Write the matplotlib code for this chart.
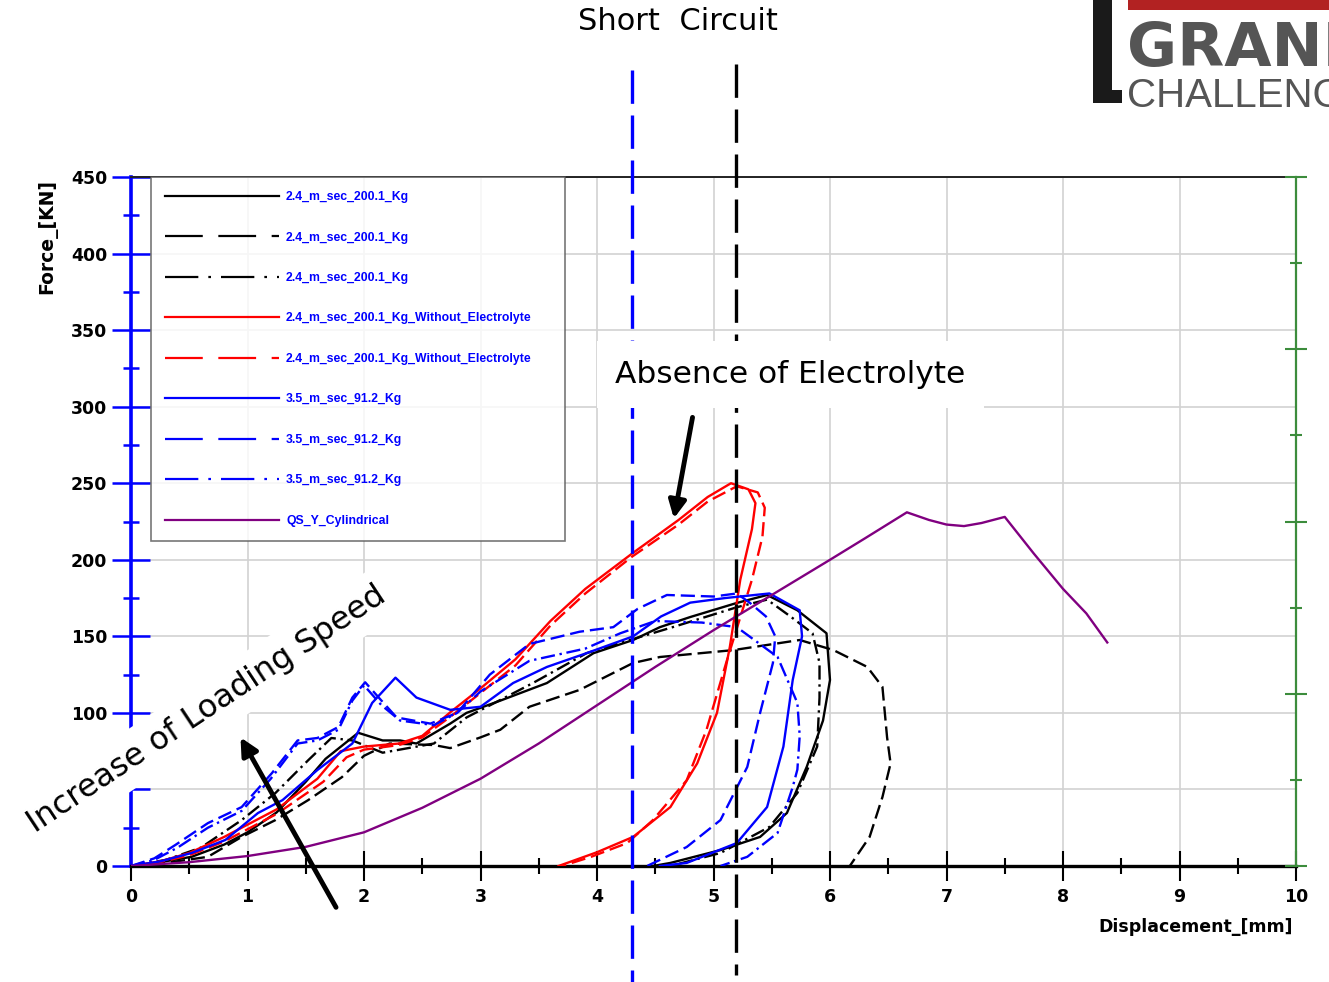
import matplotlib
matplotlib.use("Agg")
import matplotlib.pyplot as plt
from matplotlib.lines import Line2D
from matplotlib.patches import Rectangle
from matplotlib.ticker import MultipleLocator

plt.rcParams['font.family'] = ['DejaVu Sans']

# ---- data (displacement mm, force kN) ----
black_solid_x = [0, 0.25, 0.52, 0.8, 1.0, 1.25, 1.5, 1.67, 1.95, 2.16, 2.31, 2.45, 2.74, 2.88, 3.17,
                 3.57, 3.97, 4.31, 4.54, 4.8, 5.2, 5.46, 5.72, 5.97, 6.0, 5.94, 5.8, 5.63, 5.4, 5.06,
                 4.63, 4.48]
black_solid_f = [0, 2.5, 6, 14, 22, 35, 55, 70, 87, 82, 82, 80, 93, 100, 108,
                 119.5, 139, 147.6, 156, 162.6, 171.8, 177, 167, 152, 121.5, 95, 64.7, 34.6, 19, 10.4,
                 2, 0]

black_dash_x = [0, 0.3, 0.66, 0.95, 1.24, 1.52, 1.81, 2.0, 2.22, 2.6, 2.74, 3.0, 3.17, 3.42, 3.85,
                4.31, 4.54, 5.17, 5.74, 6.03, 6.32, 6.45, 6.49, 6.52, 6.45, 6.34, 6.17]
black_dash_f = [0, 2, 6, 19, 30, 43, 58, 72, 80, 79, 77, 84, 89, 104, 115,
                132.6, 136.5, 141, 147.6, 141, 130, 117, 84, 67, 45, 19, 0]

black_dd_x = [0, 0.3, 0.6, 0.95, 1.24, 1.52, 1.72, 1.9, 2.16, 2.6, 2.88, 3.45, 3.91, 4.3, 4.65,
              5.2, 5.46, 5.66, 5.85, 5.91, 5.91, 5.89, 5.72, 5.48, 5.06, 4.63]
black_dd_f = [0, 4, 12, 30, 47.7, 69, 83.6, 82, 74, 80, 97, 119.5, 139, 148, 156,
              169, 174, 163, 152, 132.6, 110, 78, 47.7, 25.5, 8.5, 0]

red_solid_x = [0, 0.25, 0.5, 0.8, 1.0, 1.25, 1.6, 1.8, 2.0, 2.3, 2.5, 2.75, 3.0, 3.3, 3.6, 3.9,
               4.3, 4.7, 4.95, 5.15, 5.3, 5.36, 5.33, 5.23, 5.14, 5.03, 4.86, 4.63, 4.31, 4.0, 3.67]
red_solid_f = [0, 3, 8.5, 19, 27, 37, 57, 75, 78, 80, 85, 101, 116, 135, 160, 181,
               204, 226, 241, 250, 246, 237, 220, 187, 143, 100, 67, 38.5, 19, 9, 0]

red_dash_x = [0, 0.25, 0.5, 0.8, 1.0, 1.25, 1.65, 1.85, 2.0, 2.3, 2.5, 2.75, 3.0, 3.3, 3.6, 3.9,
              4.3, 4.7, 4.95, 5.2, 5.38, 5.44, 5.42, 5.33, 5.11, 4.94, 4.77, 4.48, 4.26, 3.95, 3.7]
red_dash_f = [0, 2.5, 7, 16, 24, 34, 55, 71, 76, 79, 84, 98, 113, 131, 157, 178,
              202, 223, 238, 248, 244, 234, 215, 187, 133, 89, 56, 30, 15, 6, 0]

blue_solid_x = [0, 0.25, 0.52, 0.81, 1.09, 1.3, 1.6, 1.9, 2.07, 2.27, 2.45, 2.74, 3.0, 3.28, 3.57,
                3.91, 4.31, 4.55, 4.8, 5.1, 5.48, 5.74, 5.76, 5.68, 5.6, 5.46, 5.2, 4.77, 4.54]
blue_solid_f = [0, 3, 8.5, 17, 34.6, 43, 62.7, 80, 106.5, 123, 110, 102, 104, 119.5, 130,
                139, 150, 163, 172, 175, 178, 167, 150, 121.5, 78, 38.5, 15, 2, 0]

blue_dash_x = [0, 0.2, 0.38, 0.66, 0.95, 1.21, 1.43, 1.6, 1.78, 1.9, 2.01, 2.15, 2.28, 2.57, 2.8,
               3.08, 3.42, 3.85, 4.14, 4.35, 4.6, 5.0, 5.2, 5.31, 5.45, 5.53, 5.51, 5.4, 5.29,
               5.06, 4.77, 4.43]
blue_dash_f = [0, 5, 13.7, 28, 38.5, 60.7, 82, 83.6, 90.8, 110, 120, 108, 97, 93, 100,
               125, 145, 153, 156, 168, 177, 176, 178, 172, 163, 150, 132.6, 100, 64.7,
               30, 12.4, 0]

blue_dd_x = [0, 0.2, 0.4, 0.66, 0.95, 1.2, 1.43, 1.6, 1.78, 1.9, 2.0, 2.15, 2.31, 2.6, 2.8, 3.0,
             3.42, 3.9, 4.2, 4.5, 4.9, 5.2, 5.55, 5.72, 5.74, 5.72, 5.68, 5.55, 5.29, 5.06]
blue_dd_f = [0, 4, 12, 25, 36, 57, 80, 82, 89, 108, 118, 105, 95, 92, 100, 114,
             134, 142, 152, 160, 159, 156, 136.5, 106.5, 85, 63, 51.6, 21.6, 6, 0]

qs_x = [0, 0.5, 1.0, 1.5, 2.0, 2.5, 3.0, 3.5, 4.0, 4.5, 5.0, 5.5, 6.0, 6.3, 6.66, 6.85, 7.0,
        7.15, 7.3, 7.5, 7.75, 8.0, 8.2, 8.38]
qs_f = [0, 2.5, 6.5, 12.5, 22, 38, 57, 80, 105, 130, 154, 177, 200, 214, 231, 226, 223,
        222, 224, 228, 204, 181, 165, 146]

labels = ["2.4_m_sec_200.1_Kg", "2.4_m_sec_200.1_Kg", "2.4_m_sec_200.1_Kg",
          "2.4_m_sec_200.1_Kg_Without_Electrolyte", "2.4_m_sec_200.1_Kg_Without_Electrolyte",
          "3.5_m_sec_91.2_Kg", "3.5_m_sec_91.2_Kg", "3.5_m_sec_91.2_Kg", "QS_Y_Cylindrical"]

short_circuit_x = [4.30, 5.19]   # blue and black reference lines

# ---- figure ----
W, H = 1329, 982
fig = plt.figure(figsize=(W / 100, H / 100), dpi=100)
ax = fig.add_axes([131 / W, 1 - 866 / H, (1296 - 131) / W, (866 - 177) / H])

dash = (0, (6, 2.5))
dashdot = (0, (6, 2, 1, 2))
leg_dash = (0, (17, 7))
leg_dashdot = (0, (15, 4.5, 1.2, 4.5))

series = [
    (black_solid_x, black_solid_f, 'black', '-', '-'),
    (black_dash_x, black_dash_f, 'black', dash, leg_dash),
    (black_dd_x, black_dd_f, 'black', dashdot, leg_dashdot),
    (red_solid_x, red_solid_f, 'red', '-', '-'),
    (red_dash_x, red_dash_f, 'red', dash, leg_dash),
    (blue_solid_x, blue_solid_f, 'blue', '-', '-'),
    (blue_dash_x, blue_dash_f, 'blue', dash, leg_dash),
    (blue_dd_x, blue_dd_f, 'blue', dashdot, leg_dashdot),
    (qs_x, qs_f, '#800080', '-', '-'),
]

handles = []
for (x, f, c, ls, lls), lab in zip(series, labels):
    ax.plot(x, f, color=c, ls=ls, lw=1.7, zorder=3)
    handles.append(Line2D([], [], color=c, ls=lls, lw=1.6, label=lab))

# short circuit reference lines, running past the axes
ax.plot([short_circuit_x[0]] * 2, [520, -76], color='blue', lw=2.4,
        ls=(0, (10, 3.5)), clip_on=False, zorder=4)
ax.plot([short_circuit_x[1]] * 2, [524, -71], color='black', lw=2.4,
        ls=(0, (10, 3.5)), clip_on=False, zorder=4)

ax.set_xlim(0, 10)
ax.set_ylim(0, 450)
ax.xaxis.set_major_locator(MultipleLocator(1))
ax.xaxis.set_minor_locator(MultipleLocator(0.5))
ax.yaxis.set_major_locator(MultipleLocator(50))
ax.yaxis.set_minor_locator(MultipleLocator(25))
ax.grid(True, which='major', color='#d2d2d2', lw=1.2, zorder=0)
ax.set_axisbelow(True)

ax.tick_params(axis='x', which='major', direction='inout', length=21, width=1.5,
               color='black', pad=5, labelsize=12.5)
ax.tick_params(axis='x', which='minor', direction='inout', length=11, width=1.5, color='black')
ax.tick_params(axis='y', which='major', direction='inout', length=28, width=1.8,
               color='blue', pad=3, labelsize=12.5)
ax.tick_params(axis='y', which='minor', direction='inout', length=12, width=1.8, color='blue')
for lab in ax.get_xticklabels() + ax.get_yticklabels():
    lab.set_fontweight('bold')

ax.spines['left'].set_color('blue')
ax.spines['left'].set_linewidth(2.6)
ax.spines['bottom'].set_linewidth(2.4)
ax.spines['top'].set_linewidth(1.4)
ax.spines['top'].set_color('#222222')
ax.spines['right'].set_visible(False)

ax.set_ylabel("Force_[KN]", fontsize=13.5, fontweight='bold')
ax.yaxis.set_label_coords(-0.0635, 0.913)
ax.set_xlabel("Displacement_[mm]", fontsize=12.5, fontweight='bold', ha='right')
ax.xaxis.set_label_coords(0.9974, -0.0755)

# green secondary axis on the right (ticks only)
ax2 = ax.twinx()
ax2.set_ylim(0, 8)
ax2.yaxis.set_major_locator(MultipleLocator(2))
ax2.yaxis.set_minor_locator(MultipleLocator(1))
green = '#3c8c3c'
ax2.tick_params(axis='y', which='major', direction='inout', length=16, width=1.5,
                color=green, labelright=False)
ax2.tick_params(axis='y', which='minor', direction='inout', length=9, width=1.5, color=green)
for s in ['left', 'top', 'bottom']:
    ax2.spines[s].set_visible(False)
ax2.spines['right'].set_color(green)
ax2.spines['right'].set_linewidth(1.6)

leg = ax.legend(handles=handles, loc='upper left', bbox_to_anchor=(20 / 1165, 0, 414 / 1165, 1.0),
                mode='expand', borderaxespad=0, handlelength=9.3,
                handletextpad=0.6, labelspacing=2.33, borderpad=1.15, fancybox=False,
                labelcolor='blue',
                prop={'family': 'Liberation Sans', 'weight': 'bold', 'size': 8.8})
leg.get_frame().set_edgecolor('#555555')
leg.get_frame().set_linewidth(1.2)
leg.set_zorder(5)

# annotations
ax.text(5.66, 321, "Absence of Electrolyte", fontsize=22.5,
        ha='center', va='center', zorder=6,
        bbox=dict(boxstyle='square,pad=0.6', facecolor='white', edgecolor='none'))
fig.text(207 / W, 1 - 709 / H, "Increase of Loading Speed", fontsize=23,
         rotation=33.5, rotation_mode='anchor', ha='center', va='center', zorder=6,
         bbox=dict(boxstyle='square,pad=0.35', facecolor='white', edgecolor='none'))
fig.text(678 / W, 1 - 22 / H, "Short  Circuit", fontsize=22, ha='center', va='center')

arrow = dict(arrowstyle='-|>', lw=3.5, color='black', mutation_scale=26, shrinkA=0, shrinkB=0)
ax.annotate("", xy=(0.94, 84), xytext=(1.76, -27), arrowprops=arrow,
            annotation_clip=False, zorder=7)
ax.annotate("", xy=(4.66, 227), xytext=(4.82, 293), arrowprops=arrow,
            annotation_clip=False, zorder=7)

# logo in the top-right corner (cut by the figure edge, as in the original)
fig.patches.append(Rectangle((1128 / W, 1 - 10 / H), (W - 1128) / W, 10 / H,
                             transform=fig.transFigure, facecolor='#b22222', edgecolor='none'))
fig.patches.append(Rectangle((1093 / W, 1 - 103 / H), 19 / W, 103 / H,
                             transform=fig.transFigure, facecolor='#1a1a1a', edgecolor='none'))
fig.patches.append(Rectangle((1112 / W, 1 - 103 / H), 10 / W, 13 / H,
                             transform=fig.transFigure, facecolor='#1a1a1a', edgecolor='none'))
fig.text(1127 / W, 1 - 66 / H, "GRAND", fontsize=44, fontweight='bold', color='#555555',
         va='baseline', ha='left')
fig.text(1127 / W, 1 - 107 / H, "CHALLENGE", fontsize=29, color='#555555',
         family='Liberation Sans', va='baseline', ha='left')

fig.savefig("out.png", dpi=100)
